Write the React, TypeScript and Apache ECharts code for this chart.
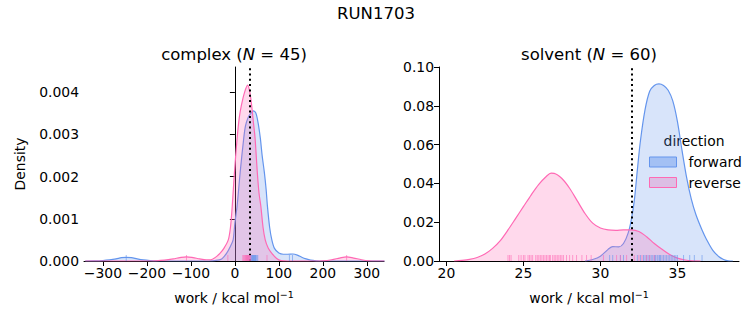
import React, { useEffect, useRef } from "react";
import * as echarts from "echarts";

const FONT = "DejaVu Sans";
const BLUE = "#6495ED";
const PINK = "#FF69B4";

const suptitle = "RUN1703";
const complexN = 45;
const solventN = 60;
const complexDeltaG = 33;
const solventDeltaG = 32.03;

// complex panel KDE curves (work, density)
const complexForwardX = [-340, -320, -300, -285, -270, -258, -247, -235, -222, -208, -193, -178, -160, -60, -45, -30, -19, -10, -4, 0, 5, 12, 20, 24, 30, 36, 42, 48, 54, 58, 62, 67, 71, 74, 79, 84, 90, 100, 110, 120, 132, 142, 152, 162, 172, 185, 200, 340];
const complexForwardY = [0, 0.000002, 0.00001, 0.000025, 0.00005, 0.00008, 0.000088, 0.00008, 0.00005, 0.000025, 0.00001, 0.000002, 0, 0, 0.00001, 0.00005, 0.00018, 0.00035, 0.0005, 0.0009, 0.0013, 0.0021, 0.0029, 0.0032, 0.0034, 0.0035, 0.00356, 0.0035, 0.0032, 0.0029, 0.0025, 0.0021, 0.0017, 0.0013, 0.0008, 0.0005, 0.0003, 0.00019, 0.00016, 0.00016, 0.000166, 0.00014, 0.00009, 0.00005, 0.00002, 0.000005, 0, 0];
const complexReverseX = [-340, -200, -180, -160, -140, -125, -110, -95, -80, -65, -55, -45, -34, -25, -15, -10, -6, -1, 5, 10, 15, 22, 29, 34, 38, 42, 46, 51, 55, 59, 64, 69, 76, 84, 95, 105, 120, 180, 200, 220, 238, 254, 270, 288, 305, 320, 340];
const complexReverseY = [0, 0, 0.000005, 0.00002, 0.00005, 0.00008, 0.0001, 0.00008, 0.00005, 0.00003, 0.00003, 0.00008, 0.00018, 0.0003, 0.0005, 0.0008, 0.0013, 0.0021, 0.0029, 0.0034, 0.0037, 0.004, 0.00417, 0.004, 0.0037, 0.0033, 0.0029, 0.0021, 0.0016, 0.0013, 0.0008, 0.0005, 0.0003, 0.00018, 0.00006, 0.00001, 0, 0, 0.000005, 0.00003, 0.00007, 0.0001, 0.00007, 0.00003, 0.000005, 0, 0];

// solvent panel KDE curves
const solventForwardX = [29.0, 29.5, 30.0, 30.5, 30.8, 31.2, 31.5, 31.8, 32.0, 32.2, 32.4, 32.6, 32.9, 33.2, 33.5, 33.8, 34.1, 34.4, 34.7, 35.0, 35.3, 35.6, 35.9, 36.2, 36.6, 36.9, 37.3, 37.7, 38.0, 38.3, 38.6];
const solventForwardY = [0, 0.0008, 0.0025, 0.006, 0.0074, 0.0073, 0.009, 0.0144, 0.021, 0.031, 0.047, 0.062, 0.078, 0.0875, 0.0905, 0.0913, 0.0905, 0.088, 0.0825, 0.072, 0.057, 0.043, 0.032, 0.024, 0.016, 0.011, 0.0055, 0.0022, 0.0008, 0.0001, 0];
const solventReverseX = [20.5, 21, 21.5, 22, 22.5, 23, 23.5, 24, 24.5, 25, 25.5, 26, 26.5, 26.8, 27, 27.5, 28, 28.5, 29, 29.5, 30, 30.5, 31, 31.5, 32, 32.5, 33, 33.5, 34, 34.5, 35, 35.5, 36, 36.5];
const solventReverseY = [0, 0.0003, 0.0008, 0.0018, 0.0036, 0.0065, 0.0105, 0.016, 0.022, 0.028, 0.034, 0.0395, 0.0437, 0.0453, 0.0452, 0.0425, 0.0375, 0.031, 0.0245, 0.0195, 0.017, 0.016, 0.0158, 0.016, 0.016, 0.0152, 0.0125, 0.009, 0.006, 0.0033, 0.0015, 0.0005, 0.0001, 0];

// rug samples
const complexForwardRug = [-247, 28, 32, 35, 36, 38, 39, 40, 41, 42, 43, 44, 45, 46, 47, 48, 50, 52, 124, 131];
const complexReverseRug = [-110, -16, 18, 20, 22, 24, 25, 26, 27, 28, 29, 30, 31, 32, 33, 34, 36, 73, 254];
const solventForwardRug = [30.6, 30.8, 31.3, 31.5, 32.4, 32.6, 32.8, 32.9, 33.0, 33.1, 33.2, 33.3, 33.4, 33.5, 33.55, 33.6, 33.7, 33.8, 33.85, 33.9, 34.0, 34.1, 34.2, 34.3, 34.4, 34.5, 34.6, 34.7, 34.8, 34.9, 35.0, 35.4, 35.8, 36.1, 36.6];
const solventReverseRug = [24.0, 24.1, 24.2, 24.7, 24.85, 25.0, 25.1, 25.3, 25.4, 25.5, 25.6, 25.8, 25.9, 26.0, 26.1, 26.2, 26.3, 26.4, 26.5, 26.6, 26.7, 26.75, 26.9, 27.0, 27.1, 27.2, 27.3, 27.4, 27.5, 27.6, 27.8, 28.0, 28.2, 28.45, 28.8, 29.1, 29.4, 30.2, 31.05, 31.3, 31.7, 32.2, 32.5, 32.7, 33.0, 33.2, 33.5];

// ticks
const complexXTicks = [-300, -200, -100, 0, 100, 200, 300];
const complexYTicks = [0, 0.001, 0.002, 0.003, 0.004];
const solventXTicks = [20, 25, 30, 35];
const solventYTicks = [0, 0.02, 0.04, 0.06, 0.08, 0.1];

const xName = "work / kcal mol{sup|−1}";
const TICK_FS = 13.9;
const TITLE_FS = 16.5;

function pairs(xs: number[], ys: number[]) {
  return xs.map((x, i) => [x, ys[i]]);
}

const fmtInt = (v: number) => (v < 0 ? "−" + Math.abs(v) : String(v));

function xAxis(idx: number, min: number, max: number, ticks: number[]) {
  return {
    type: "value",
    gridIndex: idx,
    min,
    max,
    axisLine: { show: true, lineStyle: { color: "#000", width: 1 } },
    splitLine: { show: false },
    axisTick: { show: true, length: 5, lineStyle: { color: "#000" }, customValues: ticks },
    axisLabel: { color: "#000", fontFamily: FONT, fontSize: TICK_FS, margin: 5, customValues: ticks, formatter: fmtInt },
    name: xName,
    nameLocation: "middle",
    nameGap: 28,
    nameTextStyle: {
      fontFamily: FONT,
      fontSize: TICK_FS,
      color: "#000",
      lineHeight: 18,
      rich: {
        sup: { fontFamily: FONT, fontSize: 9.5, color: "#000", verticalAlign: "top", lineHeight: 18 },
      },
    },
  };
}

function yAxis(idx: number, max: number, ticks: number[], digits: number, name?: string) {
  return {
    type: "value",
    gridIndex: idx,
    min: 0,
    max,
    axisLine: { show: true, lineStyle: { color: "#000", width: 1 } },
    splitLine: { show: false },
    axisTick: { show: true, length: 5, lineStyle: { color: "#000" }, customValues: ticks },
    axisLabel: {
      color: "#000",
      fontFamily: FONT,
      fontSize: TICK_FS,
      margin: 5,
      customValues: ticks,
      formatter: (v: number) => v.toFixed(digits),
    },
    name,
    nameLocation: "middle",
    nameGap: 57,
    nameTextStyle: { fontFamily: FONT, fontSize: TICK_FS, color: "#000" },
  };
}

function kde(name: string, idx: number, color: string, data: number[][], z: number) {
  return {
    type: "line",
    name,
    xAxisIndex: idx,
    yAxisIndex: idx,
    data,
    smooth: 0.3,
    symbol: "none",
    showSymbol: false,
    silent: true,
    z,
    lineStyle: { color, width: 1.2 },
    itemStyle: { color },
    areaStyle: { color, opacity: 0.25 },
  };
}

function rug(idx: number, color: string, vals: number[]) {
  return {
    type: "scatter",
    xAxisIndex: idx,
    yAxisIndex: idx,
    data: vals.map((v) => [v, 0]),
    symbol: "rect",
    symbolSize: [1, 6],
    symbolOffset: [0, -3],
    silent: true,
    z: 5,
    itemStyle: { color, opacity: 0.6 },
  };
}

function vline(idx: number, value: number) {
  return {
    type: "line",
    xAxisIndex: idx,
    yAxisIndex: idx,
    data: [],
    silent: true,
    z: 6,
    markLine: {
      silent: true,
      symbol: "none",
      label: { show: false },
      lineStyle: { color: "#000", type: [2, 3.3], width: 2 },
      data: [{ xAxis: value }],
    },
  };
}

export default function App() {
  const ref = useRef<HTMLDivElement>(null);
  useEffect(() => {
    if (!ref.current) return;
    const chart = echarts.init(ref.current, undefined, { renderer: "svg" });
    const text = (x: number, y: number, t: string, size: number) => ({
      type: "text",
      x,
      y,
      silent: true,
      style: {
        text: t,
        align: "center",
        verticalAlign: "middle",
        fontFamily: FONT,
        fontSize: size,
        fill: "#000",
        rich: {
          i: { fontStyle: "italic", fontFamily: FONT, fontSize: size, fill: "#000" },
        },
      },
    });
    chart.setOption({
      animation: false,
      backgroundColor: "#fff",
      textStyle: { fontFamily: FONT },
      graphic: [
        text(376, 13, suptitle, TITLE_FS),
        text(234, 54, `complex ({i|N} = ${complexN})`, TITLE_FS),
        text(589, 54, `solvent ({i|N} = ${solventN})`, TITLE_FS),
        text(694, 141, "direction", TICK_FS),
      ],
      legend: {
        left: 649,
        top: 155,
        orient: "vertical",
        itemWidth: 27,
        itemHeight: 10,
        itemGap: 6.5,
        padding: 0,
        selectedMode: false,
        textStyle: { fontFamily: FONT, fontSize: TICK_FS, color: "#000", lineHeight: 14, padding: [0, 0, 0, 7] },
        data: [
          { name: "forward", icon: "rect", itemStyle: { color: "rgba(100,149,237,0.45)", borderColor: BLUE, borderWidth: 1 } },
          { name: "reverse", icon: "rect", itemStyle: { color: "rgba(220,190,228,1)", borderColor: PINK, borderWidth: 1 } },
        ],
      },
      grid: [
        { left: 84, top: 67, width: 300, height: 194 },
        { left: 439, top: 67, width: 300, height: 194 },
      ],
      xAxis: [xAxis(0, -343, 339, complexXTicks), xAxis(1, 19.52, 39.0, solventXTicks)],
      yAxis: [yAxis(0, 0.0046, complexYTicks, 3, "Density"), yAxis(1, 0.1, solventYTicks, 2)],
      series: [
        kde("forward", 0, BLUE, pairs(complexForwardX, complexForwardY), 2),
        kde("reverse", 0, PINK, pairs(complexReverseX, complexReverseY), 3),
        rug(0, BLUE, complexForwardRug),
        rug(0, PINK, complexReverseRug),
        vline(0, complexDeltaG),
        kde("forward", 1, BLUE, pairs(solventForwardX, solventForwardY), 2),
        kde("reverse", 1, PINK, pairs(solventReverseX, solventReverseY), 3),
        rug(1, BLUE, solventForwardRug),
        rug(1, PINK, solventReverseRug),
        vline(1, solventDeltaG),
      ],
    });
    return () => chart.dispose();
  }, []);
  return <div ref={ref} style={{ position: "absolute", left: 0, top: 0, width: 753, height: 325 }} />;
}
